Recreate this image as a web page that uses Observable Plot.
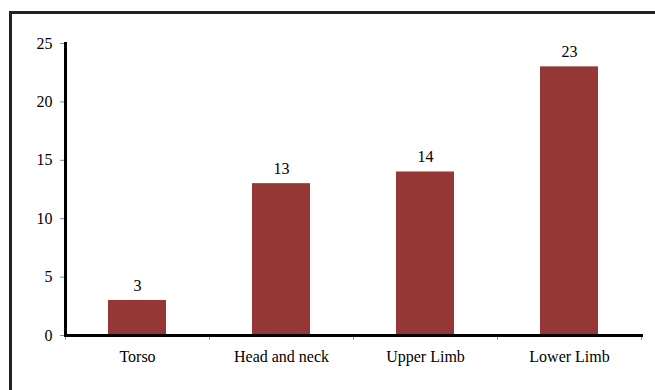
<!DOCTYPE html>
<html>
<head>
<meta charset="utf-8">
<script src="https://cdn.jsdelivr.net/npm/d3@7"></script>
<script src="https://cdn.jsdelivr.net/npm/@observablehq/plot@0.6"></script>
<style>
  html, body { margin: 0; padding: 0; background: #fff; }
  #wrap { position: relative; width: 655px; height: 390px; overflow: hidden; }
  #border { position: absolute; left: 9px; top: 11px; width: 700px; height: 500px;
            border-top: 3px solid #222; border-left: 3px solid #222; box-sizing: border-box; }
  #chart { position: absolute; left: 0; top: 0; }
  #chart svg, #chart svg text, #chart svg g {
    font-family: "Liberation Serif", "Times New Roman", serif !important;
    font-size: 16px !important;
  }
</style>
</head>
<body>
<div id="wrap"><div id="border"></div><div id="chart"></div></div>
<script>
const categories = ["Torso", "Head and neck", "Upper Limb", "Lower Limb"];
const counts = [3, 13, 14, 23];
const yTicks = [0, 5, 10, 15, 20, 25];

const data = categories.map((c, i) => ({category: c, count: counts[i]}));
const serif = "Liberation Serif";

const chart = Plot.plot({
  width: 655,
  height: 390,
  marginLeft: 65,
  marginRight: 14,
  marginTop: 43,
  marginBottom: 55,
  style: {background: "transparent", color: "#000", fontFamily: serif, fontSize: "16px"},
  x: {domain: categories, paddingInner: 0.6, paddingOuter: 0.3, label: null},
  y: {domain: [0, 25], ticks: yTicks, label: null},
  marks: [
    Plot.barY(data, {x: "category", y: "count", fill: "#953735"}),
    Plot.text(data, {x: "category", y: "count", text: d => String(d.count), dy: -15, fill: "#000", fontFamily: serif, fontSize: 16}),
    Plot.ruleX(categories, {x: d => d, dx: 72, y1: 0, y2: -0.4, stroke: "#888", strokeWidth: 1}),
    Plot.ruleX([categories[0]], {x: d => d, dx: -72, y1: 0, y2: -0.4, stroke: "#888", strokeWidth: 1}),
    Plot.axisY({ticks: yTicks, tickSize: 5, tickPadding: 8, stroke: "#888", fill: "#000", fontFamily: serif, fontSize: 16, label: null}),
    Plot.axisX({tickSize: 0, tickPadding: 15, fill: "#000", fontFamily: serif, fontSize: 16, label: null}),
    Plot.frame({anchor: "left", stroke: "#000", strokeWidth: 3}),
    Plot.frame({anchor: "bottom", stroke: "#000", strokeWidth: 3})
  ]
});
document.getElementById("chart").appendChild(chart);
</script>
</body>
</html>
